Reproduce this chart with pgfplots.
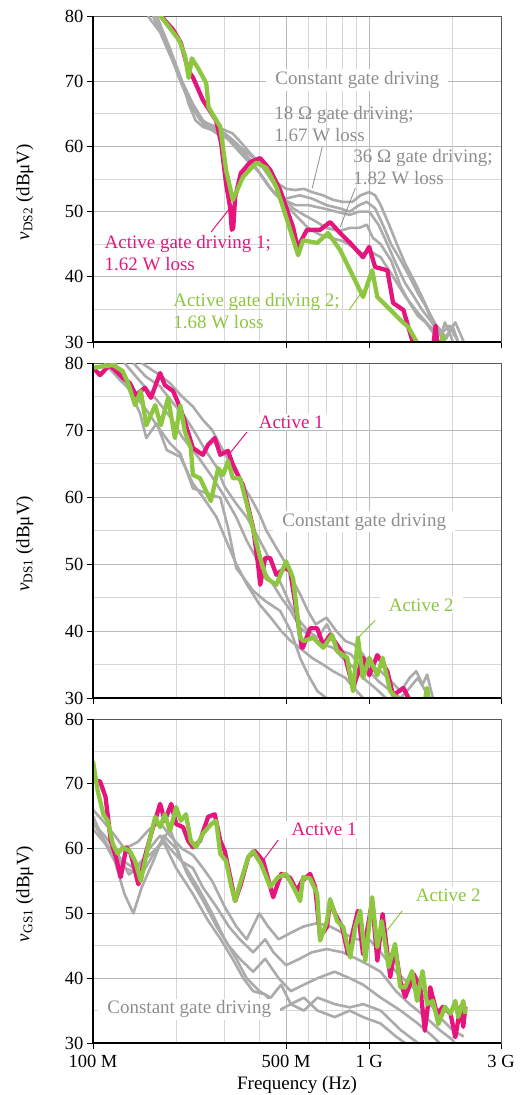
\documentclass[border=0pt]{standalone}
\usepackage{fontspec}
\setmainfont{Liberation Serif}
\usepackage{pgfplots}
\pgfplotsset{compat=1.18}

\definecolor{pinkc}{HTML}{E6157E}
\definecolor{greenc}{HTML}{8DC63F}
\definecolor{grayline}{HTML}{ABABAB}
\definecolor{txtgray}{HTML}{8E8E8E}
\newcommand{\ann}{\fontsize{19}{22}\selectfont}

\tikzset{
  gr/.style={draw=grayline, line width=2.6pt, line join=round},
  a1/.style={draw=pinkc, line width=4.3pt, line join=round},
  a2/.style={draw=greenc, line width=4.3pt, line join=round},
  lab/.style={font=\ann, inner xsep=9pt, inner ysep=2pt},
  frame/.style={black, line width=1.6pt},
}
\pgfplotsset{
  scale only axis, width=408pt,
  xmin=100, xmax=3000, ymin=30, ymax=80,
  xtick={100,500,1000,3000},
  minor xtick={200,300,400,600,700,800,900,2000},
  ytick={30,40,...,80}, minor ytick={35,45,...,75},
  grid=both,
  major grid style={draw=black!28, line width=0.7pt},
  minor grid style={draw=black!16, line width=0.7pt},
  tick pos=left, tick align=outside,
  major tick length=6pt, minor tick length=0pt,
  tick style={black, line width=0.8pt},
  axis line style={draw=black!65, line width=0.8pt},
  ticklabel style={font=\fontsize{18.5}{20}\selectfont},
  xticklabel style={yshift=-3pt},
  label style={font=\ann},
  ylabel style={at={(axis description cs:-0.167,0.46)}, anchor=center},
}

\begin{document}
\begin{tikzpicture}
\useasboundingbox (0,0) rectangle (521pt,-1095pt);

% ---------------- v_DS2 ----------------
\begin{axis}[name=p1, xmode=log, no markers, /pgf/number format/assume math mode=true,
  at={(93pt,-16pt)}, anchor=north west, height=326pt,
  xticklabels={}, ylabel={\textit{v}\textsubscript{DS2} (dBμV)}]
\addplot[gr] coordinates {(158,80)(175,77.5)(190,74)(200,72)(210,69.5)(222,67)(232,65.5)(245,64)(260,63.5)(280,63)(300,62.5)(320,62)(345,60.5)(370,59)(400,57.5)(430,56)(460,54.5)(500,53.5)(540,53.3)(580,53.5)(620,53)(680,52.5)(740,51.8)(800,51.5)(870,51.5)(930,52.5)(1000,53)(1050,52.5)(1100,51)(1180,48)(1260,45)(1350,42)(1450,39.5)(1550,37)(1650,34.5)(1750,32.5)(1820,31)(1880,33)(1950,31.5)(2050,33)(2150,31)(2250,29)};
\addplot[gr] coordinates {(165,80)(180,76.5)(195,73.5)(210,70)(222,66.5)(235,64)(250,63)(270,62.5)(290,62)(315,61)(340,59.5)(370,58)(400,56)(430,54)(460,52.5)(500,52)(560,52.5)(620,52)(700,51)(780,50.5)(850,50)(920,51)(980,51.5)(1050,50.5)(1120,48)(1200,45)(1300,42.5)(1400,40)(1500,37.5)(1600,35.5)(1700,33)(1800,32)(1900,30.5)(2000,32.5)(2100,30)(2200,29)};
\addplot[gr] coordinates {(165,80)(185,75.5)(205,70.5)(225,66.5)(245,64)(270,63)(300,62)(330,60.5)(360,58.5)(400,56)(440,53.5)(480,52)(540,51)(600,51)(680,50.5)(760,50)(850,49.5)(920,50)(1000,50)(1080,48)(1150,45.5)(1250,42)(1350,39)(1450,37)(1550,35)(1650,33.5)(1750,32)(1850,30.5)(1950,31.5)(2050,29)};
\addplot[gr] coordinates {(170,80)(190,74.5)(210,69.5)(230,66)(250,63.5)(280,62)(310,61.5)(350,59.5)(400,57.5)(440,55)(480,52.5)(530,50.5)(580,49.5)(640,48.5)(700,47.5)(780,47)(850,47.5)(920,47.5)(980,48)(1030,46)(1100,45)(1200,42.5)(1300,38.5)(1400,36)(1500,34)(1600,33)(1700,31.5)(1800,30)(1900,29)};
\addplot[gr] coordinates {(170,80)(190,75)(210,70)(230,66.5)(250,64)(280,62.5)(310,61)(350,58.5)(400,56)(450,53)(500,51)(540,49.5)(600,47.5)(660,46.5)(720,46)(800,45.5)(880,44.5)(950,43.5)(1000,44)(1100,43)(1200,40.5)(1350,37)(1500,34.5)(1650,32.5)(1800,31)(1950,32.5)(2100,30)(2250,29)};
\addplot[a1] coordinates {(172,80.5)(195,77.9)(208,75.9)(222,71.5)(230,70.6)(250,67.1)(279,64.0)(291,60.5)(303,54.4)(314,50.5)(318,47.2)(322,47.5)(327,52.2)(343,55.9)(371,57.6)(403,58.2)(438,56.4)(476,53.3)(530,47.6)(553,44.1)(562,45.2)(595,47.2)(664,47.2)(722,48.4)(785,46.7)(853,45.2)(950,43.0)(1000,44.6)(1050,41.5)(1163,41.0)(1220,36.0)(1330,34.9)(1430,30.3)(1480,29)(1600,28.5)(1700,29)(1740,32.5)(1770,29)(1800,28)};
\addplot[a2] coordinates {(172,80.5)(205,76.3)(215,74)(222,70.5)(228,73.5)(240,72)(257,69.7)(262,66)(275,64.5)(289,63.0)(303,56.4)(321,51.8)(349,55.3)(390,57.5)(424,56.7)(461,53.8)(500,49.2)(553,43.3)(576,45.6)(648,45.2)(710,46.7)(785,44.1)(853,41.0)(950,36.9)(1025,41.0)(1070,36.9)(1163,35.4)(1295,33.4)(1385,32.3)(1490,29.9)(1600,28.5)(1800,29)(1850,31)(1880,28.5)};
\node[lab, text=txtgray, fill=white] at (axis cs:905,70.2) {Constant gate driving};
\node[lab, text=txtgray, anchor=west, align=left, inner xsep=0pt] at (axis cs:453,63.4) {18 Ω gate driving;\\1.67 W loss};
\node[lab, text=txtgray, anchor=west, align=left, inner xsep=0pt] at (axis cs:875,56.8) {36 Ω gate driving;\\1.82 W loss};
\node[lab, text=pinkc, anchor=west, align=left, inner xsep=0pt] at (axis cs:110,43.65) {Active gate driving 1;\\1.62 W loss};
\node[lab, text=greenc, anchor=west, align=left, inner xsep=0pt] at (axis cs:195,34.75) {Active gate driving 2;\\1.68 W loss};
\draw[txtgray, line width=0.8pt] (axis cs:676,59.9) -- (axis cs:622,53.6);
\draw[txtgray, line width=0.8pt] (axis cs:890,53.6) -- (axis cs:785,47.6);
\draw[pinkc, line width=1pt] (axis cs:268,46.9) -- (axis cs:314,50.6);
\draw[greenc, line width=1pt] (axis cs:846,34.9) -- (axis cs:951,38.0);
\end{axis}
\draw[frame] (p1.north west) -- (p1.south west) -- (p1.south east);

% ---------------- v_DS1 ----------------
\begin{axis}[name=p2, xmode=log, no markers, /pgf/number format/assume math mode=true,
  at={(93pt,-363pt)}, anchor=north west, height=335pt,
  xticklabels={}, ylabel={\textit{v}\textsubscript{DS1} (dBμV)}]
\addplot[gr] coordinates {(150,80)(170,78.5)(190,77)(210,75)(230,73.5)(250,71.5)(270,70)(295,67)(320,64.5)(345,62)(371,60)(400,57.5)(424,55)(460,52.5)(500,50)(530,47.5)(562,45.5)(600,43)(640,41)(700,42)(760,40)(820,38.5)(880,38)(950,36.5)(1000,35)(1100,34)(1200,32.5)(1300,31)(1400,33)(1480,34)(1560,32)(1620,33.5)(1700,30)(1750,29)};
\addplot[gr] coordinates {(140,80)(155,78)(175,76.5)(195,74)(215,72)(235,69.5)(255,67)(280,64.5)(300,61.5)(330,59)(360,57)(390,54.5)(420,52)(450,49.5)(480,47)(517,44)(560,41.5)(600,40)(650,39)(703,41)(750,38.5)(800,37)(860,36.5)(920,35)(1000,34)(1080,32.5)(1200,31)(1300,30)(1400,31.5)(1500,33)(1600,31)(1700,29)};
\addplot[gr] coordinates {(110,80)(125,77.5)(140,75.5)(156,73)(175,70)(190,68)(207,66.5)(230,61.3)(260,60.5)(289,59.9)(310,55)(330,49.4)(350,48)(380,46)(420,44.5)(476,43)(520,40)(562,36)(600,33.5)(650,31)(700,30)(760,29)};
\addplot[gr] coordinates {(120,80)(135,76)(148,72.5)(156,68.8)(170,71)(185,67)(207,66)(230,62)(250,60)(280,57)(300,54)(330,50)(360,47)(400,44)(440,42)(480,40)(520,38.5)(560,37.5)(620,36)(680,35)(740,34)(820,33)(880,31.5)(950,30)(1000,29)};
\addplot[gr] coordinates {(130,80)(150,77)(170,74.5)(190,72)(210,69)(240,66)(270,63)(300,60)(330,57)(360,53.5)(400,50)(440,47.5)(480,45)(520,43)(562,40.5)(620,39)(680,38)(740,37.5)(800,36)(880,34.5)(950,33)(1050,31.5)(1150,30)(1250,29)};
\addplot[a1] coordinates {(100,79.3)(106,78.2)(115,79.7)(128,77.8)(136,77.0)(143,75.2)(154,76.3)(162,74.8)(175,78.5)(182,76.7)(195,75.8)(207,73.3)(217,70.7)(230,67.3)(250,66.3)(261,67.8)(276,68.8)(289,66.3)(308,66.9)(321,64.8)(349,61.8)(380,55.4)(396,49.9)(403,46.9)(420,50.9)(438,50.9)(461,48.4)(496,49.4)(517,49.0)(545,43.0)(570,37.5)(575,37.5)(611,40.4)(648,40.4)(682,37.9)(722,39.4)(766,37.9)(820,36.0)(874,31.5)(950,36.0)(1000,33.4)(1070,36.4)(1163,34.0)(1220,30.4)(1330,31.5)(1408,29.5)(1450,28)};
\addplot[a2] coordinates {(100,79.3)(118,79.7)(128,78.8)(134,77.0)(142,73.7)(149,75.8)(156,70.7)(168,73.7)(176,70.7)(187,74.8)(198,68.8)(207,73.7)(215,69.8)(226,67.3)(230,63.3)(244,62.8)(267,59.4)(284,64.3)(296,63.3)(308,65.4)(321,62.8)(341,62.8)(371,56.9)(403,50.9)(424,47.9)(461,46.9)(500,50.4)(530,47.9)(562,39.0)(580,38.5)(626,39.0)(682,37.5)(734,39.4)(766,37.0)(832,36.0)(874,31.0)(910,39.0)(950,33.0)(1000,36.0)(1070,33.4)(1118,36.0)(1192,31.0)(1295,29.5)(1450,29)(1580,29)(1620,31.5)(1650,29)};
\node[lab, text=pinkc, fill=white] at (axis cs:522,71.2) {Active 1};
\node[lab, text=txtgray, fill=white] at (axis cs:959,56.3) {Constant gate driving};
\node[lab, text=greenc, fill=white] at (axis cs:1543,43.9) {Active 2};
\draw[pinkc, line width=1pt] (axis cs:361,69.7) -- (axis cs:314,66.6);
\draw[greenc, line width=1pt] (axis cs:1051,41.6) -- (axis cs:912,39.0);
\end{axis}
\draw[frame] (p2.north west) -- (p2.south west) -- (p2.south east);

% ---------------- v_GS1 ----------------
\begin{axis}[name=p3, xmode=log, no markers, /pgf/number format/assume math mode=true,
  at={(93pt,-719pt)}, anchor=north west, height=324pt,
  xticklabels={100 M,500 M,1 G,3 G},
  xlabel={Frequency (Hz)},
  xlabel style={at={(axis description cs:0.5,0)}, anchor=center, yshift=-42pt},
  ylabel={\textit{v}\textsubscript{GS1} (dBμV)}]
\addplot[gr] coordinates {(100,66)(110,64)(120,62)(130,60)(145,61)(160,63)(175,64)(190,62)(210,60)(230,59)(250,57)(270,55)(300,51)(330,48)(360,46)(400,50)(430,48)(470,46)(520,47)(580,48)(650,48.5)(720,48)(800,47)(900,46)(1000,46)(1100,44)(1250,41)(1400,39)(1600,37)(1800,34)(2000,32)(2200,31)};
\addplot[gr] coordinates {(100,64)(110,62)(120,60)(135,56)(145,57)(160,60)(175,62)(190,60)(210,58)(230,57)(250,54)(280,51)(310,48)(340,46)(380,44)(420,46)(450,44)(500,42)(560,43)(620,44)(700,44.5)(800,44)(900,43)(1000,42)(1100,41)(1250,38)(1400,36)(1600,34)(1800,32)(2000,30.5)(2100,29)};
\addplot[gr] coordinates {(100,65)(110,61)(120,58)(130,53)(140,50)(150,54)(165,58)(180,62)(200,60)(220,56)(250,52)(280,48)(310,45)(340,43)(380,41)(420,43)(470,40)(520,38)(580,39)(650,40)(750,41)(850,40)(950,39)(1100,37)(1300,35)(1500,33)(1700,31)(1900,29)};
\addplot[gr] coordinates {(100,64)(115,60)(130,57)(150,56)(170,60)(190,63)(210,58)(240,54)(270,50)(300,46)(330,43)(360,40)(400,38)(440,37)(480,39)(520,36)(580,35)(650,37)(750,36)(850,35.5)(950,36)(1100,35)(1300,32)(1500,30)(1600,29)};
\addplot[gr] coordinates {(100,63)(120,59)(140,57)(160,59)(180,61)(200,57)(230,53)(260,49)(290,46)(320,43)(350,40)(380,38)(420,37.5)(470,35)(520,36)(580,37)(650,35)(750,34)(850,35)(950,34)(1100,33)(1250,31)(1400,29.5)(1500,29)};
\addplot[a1] coordinates {(100,70.4)(106,70.4)(111,68.0)(116,61.2)(121,58.7)(126,55.6)(132,60.2)(137,59.2)(146,54.5)(156,59.6)(165,63.3)(175,66.9)(182,64.3)(192,66.9)(200,63.8)(212,63.3)(221,61.2)(230,60.2)(244,61.2)(261,64.9)(276,65.3)(289,61.2)(300,59.6)(314,55.6)(327,51.9)(343,54.5)(365,58.7)(386,59.6)(413,58.1)(449,52.5)(480,56.1)(517,55.5)(547,53.5)(571,55.0)(611,56.1)(637,54.1)(664,46.4)(703,47.9)(722,51.9)(753,49.9)(798,47.9)(838,43.7)(874,47.3)(910,50.4)(950,43.7)(1025,51.9)(1070,42.7)(1118,49.9)(1192,40.2)(1240,44.8)(1295,39.6)(1350,37.1)(1450,40.6)(1530,38.6)(1590,31.9)(1663,38.6)(1760,34.5)(1850,35.6)(1970,34.5)(2050,30.9)(2140,35.6)(2190,32.5)(2230,35.6)};
\addplot[a2] coordinates {(100,73.5)(104,68.9)(109,65.3)(113,64.3)(118,60.7)(123,59.2)(128,60.2)(136,59.6)(142,58.1)(149,55.0)(158,60.2)(168,64.9)(175,63.3)(182,65.3)(190,62.7)(200,66.4)(208,64.3)(217,65.3)(226,61.2)(236,60.2)(250,62.3)(268,63.8)(279,64.3)(289,59.2)(303,58.1)(317,54.1)(327,51.9)(343,55.0)(365,58.7)(380,59.6)(406,57.6)(438,54.1)(468,55.6)(500,56.1)(540,53.5)(562,51.9)(576,55.6)(611,55.4)(648,53.0)(664,45.8)(703,48.8)(722,52.2)(766,48.8)(805,47.9)(853,43.2)(890,47.9)(928,50.4)(968,42.7)(1025,52.5)(1070,44.8)(1110,48.8)(1175,41.7)(1240,45.3)(1295,38.6)(1350,38.6)(1430,41.1)(1490,36.5)(1560,41.1)(1620,36.0)(1700,36.5)(1780,32.9)(1880,35.6)(1970,34.5)(2050,36.5)(2100,34.0)(2190,36.5)(2230,34.5)};
\node[lab, text=pinkc, fill=white] at (axis cs:687,63.0) {Active 1};
\node[lab, text=greenc, fill=white] at (axis cs:1933,52.8) {Active 2};
\node[lab, text=txtgray, fill=white] at (axis cs:223,35.2) {Constant gate driving};
\draw[pinkc, line width=1pt] (axis cs:468,61.3) -- (axis cs:413,58.2);
\draw[greenc, line width=1pt] (axis cs:1317,50.4) -- (axis cs:1162,47.4);
\end{axis}
\draw[frame] (p3.north west) -- (p3.south west) -- (p3.south east);
\end{tikzpicture}
\end{document}
